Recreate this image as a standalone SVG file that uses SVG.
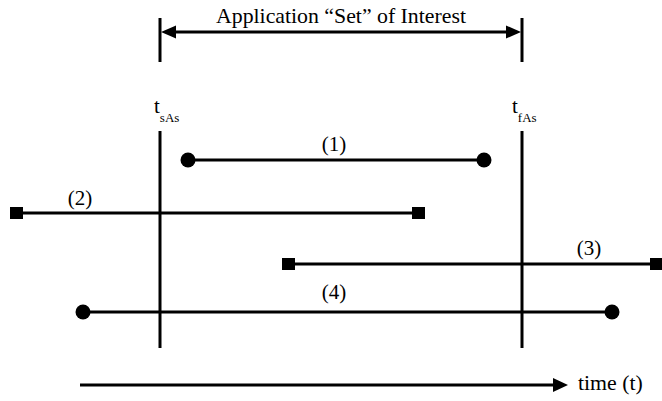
<svg xmlns="http://www.w3.org/2000/svg" width="662" height="401" viewBox="0 0 662 401">
<style>
text{font-family:"Liberation Serif","Times New Roman",serif;fill:#000}
.lbl{font-size:21px}
.big{font-size:21.8px}
.sub{font-size:13px}
.ln{stroke:#000;stroke-width:3;fill:none}
.dot{fill:#000}
</style>
<rect width="662" height="401" fill="#fff"/>
<g id="connectors">
<line class="ln" x1="160" y1="18" x2="160" y2="62"/>
<line class="ln" x1="522" y1="18" x2="522" y2="62"/>
<line class="ln" x1="172" y1="32" x2="510" y2="32"/>
<polygon class="dot" points="161,32 176,25.5 176,38.5"/>
<polygon class="dot" points="521,32 506,25.5 506,38.5"/>
<line class="ln" x1="80" y1="385" x2="556" y2="385"/>
<polygon class="dot" points="568,385 553,378 553,392"/>
</g>
<g id="title"><text class="big" x="341" y="23" text-anchor="middle">Application “Set” of Interest</text></g>
<g id="tsAs">
<line class="ln" x1="160" y1="131" x2="160" y2="348"/>
<text class="lbl" x="154" y="113">t<tspan class="sub" dy="9">sAs</tspan></text>
</g>
<g id="tfAs">
<line class="ln" x1="522" y1="131" x2="522" y2="348"/>
<text class="lbl" x="512" y="113">t<tspan class="sub" dy="9">fAs</tspan></text>
</g>
<g id="interval1">
<line class="ln" x1="188" y1="160" x2="484" y2="160"/>
<circle class="dot" cx="188" cy="160" r="7.5"/>
<circle class="dot" cx="484" cy="160" r="7.5"/>
<text class="lbl" x="334" y="151" text-anchor="middle">(1)</text>
</g>
<g id="interval2">
<line class="ln" x1="16" y1="213" x2="418" y2="213"/>
<rect class="dot" x="10" y="207" width="13" height="12"/>
<rect class="dot" x="412" y="207" width="13" height="12"/>
<text class="lbl" x="80" y="205" text-anchor="middle">(2)</text>
</g>
<g id="interval3">
<line class="ln" x1="288" y1="264" x2="656" y2="264"/>
<rect class="dot" x="282" y="258" width="13" height="12"/>
<rect class="dot" x="650" y="258" width="12" height="12"/>
<text class="lbl" x="589" y="255" text-anchor="middle">(3)</text>
</g>
<g id="interval4">
<line class="ln" x1="83" y1="312" x2="612" y2="312"/>
<circle class="dot" cx="83" cy="312" r="7.5"/>
<circle class="dot" cx="612" cy="312" r="7.5"/>
<text class="lbl" x="334" y="299" text-anchor="middle">(4)</text>
</g>
<g id="timelabel"><text class="big" x="578" y="390">time (t)</text></g>
</svg>
